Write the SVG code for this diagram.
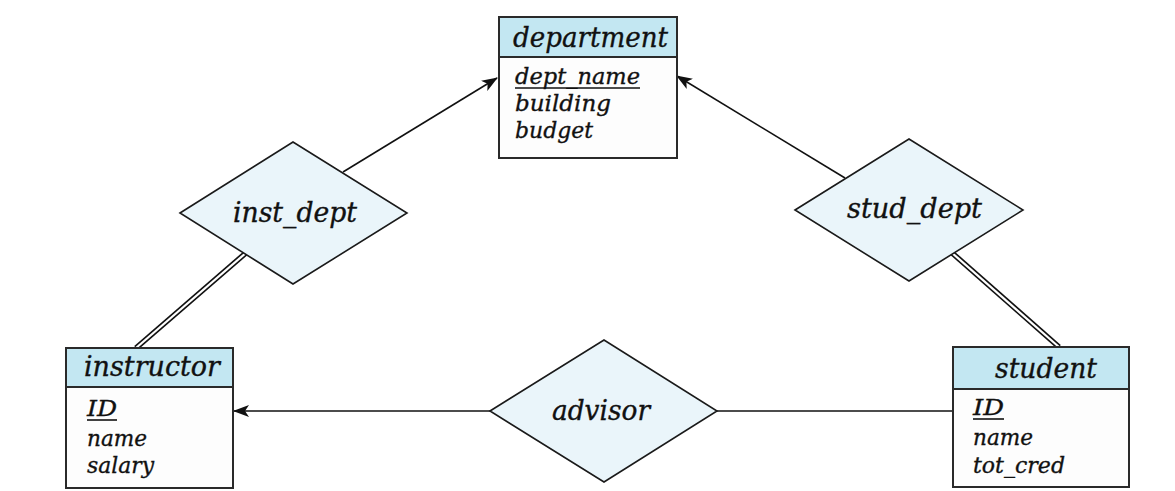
<svg xmlns="http://www.w3.org/2000/svg" width="1175" height="491" viewBox="0 0 1175 491">
<defs>
<style>
.box{fill:#fdfdfd;stroke:#2a2a2a;stroke-width:2}
.hdr{fill:#c3e7f2;stroke:#2a2a2a;stroke-width:2}
.dia{fill:#eaf5fa;stroke:#1a1a1a;stroke-width:1.6}
.t{font-family:"DejaVu Serif","Liberation Serif",serif;font-style:italic;fill:#111;stroke:#111;stroke-width:0.35}
.h{font-size:27px}
.a{font-size:23px}
.ln{stroke:#111;stroke-width:1.6;fill:none}
.dbl{stroke:#111;stroke-width:5.5;fill:none}
.dblw{stroke:#fff;stroke-width:2.2;fill:none}
.ul{stroke:#111;stroke-width:1.6}
</style>
<marker id="arr" markerWidth="16" markerHeight="12" refX="15" refY="6" orient="auto" markerUnits="userSpaceOnUse">
<path d="M0,0 L16,6 L0,12 L4,6 z" fill="#111"/>
</marker>
</defs>
<rect width="1175" height="491" fill="#fff"/>
<g id="connectors">
<line class="ln" x1="343" y1="172" x2="497" y2="78" marker-end="url(#arr)"/>
<line class="ln" x1="845" y1="178" x2="677" y2="76" marker-end="url(#arr)"/>
<line class="ln" x1="490" y1="411" x2="234" y2="411" marker-end="url(#arr)"/>
<line class="ln" x1="717" y1="411" x2="953" y2="411"/>
<line class="dbl" x1="247" y1="252" x2="136" y2="348"/>
<line class="dblw" x1="247" y1="252" x2="136" y2="348"/>
<line class="dbl" x1="951" y1="252" x2="1059" y2="347"/>
<line class="dblw" x1="951" y1="252" x2="1059" y2="347"/>
</g>
<g id="inst_dept">
<polygon class="dia" points="180,213 293,142 407,213 293,284"/>
<text class="t h" x="233" y="222" textLength="124" lengthAdjust="spacingAndGlyphs">inst_dept</text>
</g>
<g id="stud_dept">
<polygon class="dia" points="795,210 909,139 1023,210 909,281"/>
<text class="t h" x="847" y="218" textLength="135" lengthAdjust="spacingAndGlyphs">stud_dept</text>
</g>
<g id="advisor">
<polygon class="dia" points="490,411 604,340 717,411 604,482"/>
<text class="t h" x="552" y="420" textLength="98" lengthAdjust="spacingAndGlyphs">advisor</text>
</g>
<g id="department">
<rect class="box" x="499" y="17" width="178" height="141"/>
<rect class="hdr" x="499" y="17" width="178" height="40"/>
<text class="t h" x="513" y="47" textLength="155" lengthAdjust="spacingAndGlyphs">department</text>
<text class="t a" x="515" y="84" textLength="125" lengthAdjust="spacingAndGlyphs">dept_name</text>
<line class="ul" x1="515" y1="88" x2="640" y2="88"/>
<text class="t a" x="515" y="111" textLength="96" lengthAdjust="spacingAndGlyphs">building</text>
<text class="t a" x="515" y="138" textLength="78" lengthAdjust="spacingAndGlyphs">budget</text>
</g>
<g id="instructor">
<rect class="box" x="66" y="348" width="167" height="140"/>
<rect class="hdr" x="66" y="348" width="167" height="39"/>
<text class="t h" x="84" y="376" textLength="136" lengthAdjust="spacingAndGlyphs">instructor</text>
<text class="t a" x="87" y="416" textLength="30" lengthAdjust="spacingAndGlyphs">ID</text>
<line class="ul" x1="87" y1="420" x2="117" y2="420"/>
<text class="t a" x="87" y="446" textLength="60" lengthAdjust="spacingAndGlyphs">name</text>
<text class="t a" x="87" y="473" textLength="67" lengthAdjust="spacingAndGlyphs">salary</text>
</g>
<g id="student">
<rect class="box" x="953" y="347" width="176" height="140"/>
<rect class="hdr" x="953" y="347" width="176" height="42"/>
<text class="t h" x="995" y="378" textLength="102" lengthAdjust="spacingAndGlyphs">student</text>
<text class="t a" x="973" y="415" textLength="31" lengthAdjust="spacingAndGlyphs">ID</text>
<line class="ul" x1="973" y1="419" x2="1004" y2="419"/>
<text class="t a" x="973" y="445" textLength="60" lengthAdjust="spacingAndGlyphs">name</text>
<text class="t a" x="973" y="473" textLength="92" lengthAdjust="spacingAndGlyphs">tot_cred</text>
</g>
</svg>
